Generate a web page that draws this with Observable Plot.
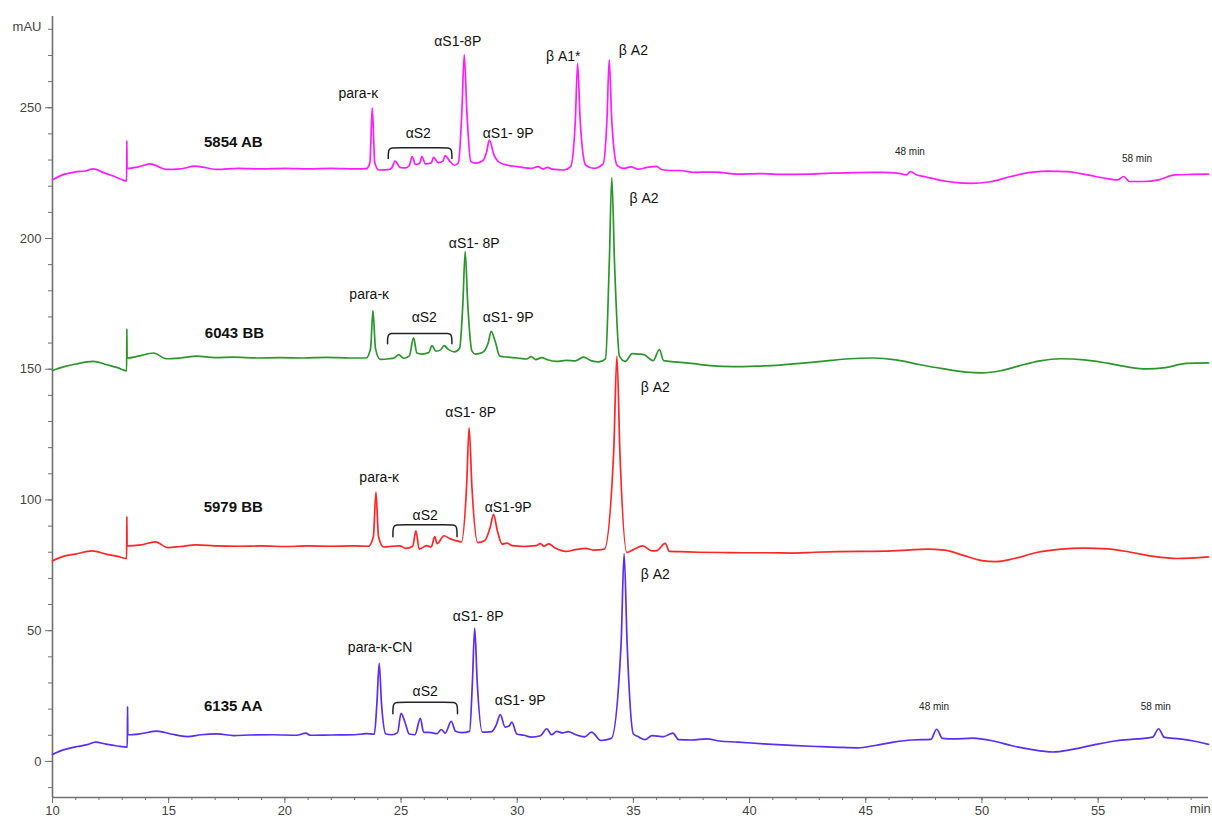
<!DOCTYPE html>
<html>
<head>
<meta charset="utf-8">
<script src="https://cdn.jsdelivr.net/npm/d3@7"></script>
<script src="https://cdn.jsdelivr.net/npm/@observablehq/plot@0.6"></script>
<style>
  body { margin: 0; background: #fff; }
  #chart svg { display: block; }
</style>
</head>
<body>
<div id="chart"></div>
<script>
// Chromatogram traces, [retention time (min), absorbance (mAU)]
const trace5854AB = [
  [10.0,222.5],[10.5,224.5],[11.0,225.5],[11.4,225.8],[11.75,226.6],[12.2,225.2],[12.7,223.6],[13.19,222.0],
  [13.2,237.4],[13.21,226.8],[13.7,227.4],[14.2,228.5],[14.93,226.4],[15.5,226.6],[16.15,227.7],[17.08,226.4],
  [18.0,226.8],[19.0,226.6],[20.0,226.8],[21.0,226.6],[22.0,226.8],[23.0,226.6],[23.5,226.7],[23.66,229],
  [23.76,250],[23.87,229],[24.05,226.2],[24.45,226.3],[24.6,227],[24.75,229.6],[24.95,227.2],[25.2,227],
  [25.35,227.8],[25.48,231.3],[25.62,228.3],[25.8,228.8],[25.9,231.3],[26.05,228.5],[26.3,228.9],[26.4,231],
  [26.6,229],[26.8,229.6],[26.9,231.7],[27.1,229.5],[27.3,228],[27.47,229],[27.62,249],[27.72,270.3],
  [27.83,249],[28.0,229.5],[28.2,228.8],[28.5,229.6],[28.68,233],[28.8,237.6],[29.0,232],[29.25,229],
  [29.6,228],[30.0,227.5],[30.6,226.8],[30.9,227.5],[31.1,226.6],[31.3,227.2],[31.5,226.5],[32.0,226.2],
  [32.3,227.5],[32.5,245],[32.6,267],[32.71,245],[32.95,228],[33.3,226.8],[33.7,228.5],[33.86,245],
  [33.96,268.3],[34.07,245],[34.3,228],[34.6,226.8],[34.9,227.4],[35.2,226.5],[35.6,227.2],[36.0,227.6],
  [36.2,226.4],[36.6,226],[37.0,226],[37.6,225.3],[38.5,225.4],[39.5,224.6],[40.5,224.8],[41.5,224.5],
  [42.5,224.6],[43.5,225],[44.5,225.2],[45.7,225.3],[46.5,224.8],[46.75,224.3],[46.93,225.6],[47.15,224.5],
  [47.6,223.5],[48.5,221.8],[49.5,221.1],[50.3,221.6],[51.2,223.6],[52.0,225.2],[52.8,225.8],[53.7,225.6],
  [54.6,224.2],[55.4,222.9],[55.85,222.4],[56.1,223.7],[56.35,221.8],[57.0,221.8],[57.6,222.4],[58.3,224.3],
  [59.0,224.5],[59.75,224.6]
];

const trace6043BB = [
  [10.0,149.5],[10.5,151],[11.0,152],[11.75,153],[12.3,151.8],[12.8,150.6],[13.19,149.4],[13.2,165.4],
  [13.21,154.3],[13.7,155],[14.35,156.2],[14.9,154],[15.5,154.3],[16.2,155],[17.0,154.4],[17.8,154.6],
  [18.8,154.3],[19.8,154.4],[20.8,154.3],[21.8,154.5],[22.8,154.3],[23.5,154.3],[23.69,158],[23.79,172.4],
  [23.9,158],[24.1,153.8],[24.5,154],[24.7,154.3],[24.9,155.6],[25.1,154.2],[25.35,155],[25.54,162],
  [25.68,156.2],[25.9,155.8],[26.2,156.4],[26.33,159],[26.5,156.9],[26.7,157.4],[26.85,159],[27.05,157.5],
  [27.3,156.6],[27.52,158],[27.66,175],[27.76,195],[27.87,175],[28.05,157],[28.2,155.8],[28.5,156.4],
  [28.75,160],[28.88,164.5],[29.05,160.7],[29.25,155],[29.6,154.6],[30.0,154.3],[30.4,153.9],[30.6,154.8],
  [30.8,153.7],[31.05,154.4],[31.3,153.6],[31.7,153],[32.1,153.4],[32.5,153.2],[32.85,154.6],[33.2,153.2],
  [33.5,152.8],[33.8,154],[33.96,190],[34.07,223.3],[34.19,190],[34.4,155],[34.65,153],[34.95,156],
  [35.2,155.8],[35.45,155.6],[35.85,153.3],[36.12,157.5],[36.3,153.3],[36.8,152.8],[37.5,152.2],[38.3,151.4],
  [39.3,151.0],[40.3,151.2],[41.3,151.6],[42.3,152.3],[43.3,153.2],[44.3,154.0],[45.3,154.3],[46.3,153.6],
  [47.3,151.8],[48.3,150.2],[49.3,148.9],[50.0,148.6],[50.8,149.4],[51.6,151.3],[52.5,153.2],[53.4,154],
  [54.4,153.6],[55.4,152.3],[56.3,150.8],[57.1,150.1],[57.9,150.6],[58.8,152.2],[59.75,152.4]
];

const trace5979BB = [
  [10.0,76.7],[10.5,78.5],[11.0,79.3],[11.7,80.5],[12.3,79.3],[12.8,78.4],[13.19,77.6],[13.2,93.6],
  [13.21,82.4],[13.8,82.8],[14.43,84],[14.95,81.8],[15.5,82.2],[16.2,82.8],[17.0,82.4],[18.0,82.3],
  [19.0,82.4],[20.0,82.2],[21.0,82.4],[22.0,82.3],[23.0,82.4],[23.6,82.3],[23.81,86],[23.92,103],
  [24.03,86],[24.25,82],[24.6,82.3],[24.95,82.4],[25.2,81.5],[25.5,82.3],[25.64,88.2],[25.78,81.2],
  [26.1,82.5],[26.3,82],[26.45,86],[26.55,83.3],[26.85,86.3],[27.1,85.2],[27.3,84.6],[27.6,84],
  [27.82,105],[27.93,127.6],[28.05,105],[28.3,83.7],[28.6,84.5],[28.85,90],[28.98,94.5],[29.15,88],
  [29.35,83.1],[29.55,83.5],[29.8,82.5],[30.3,82.2],[30.8,82.5],[31.0,83.3],[31.15,82.3],[31.36,83.2],
  [31.6,81.8],[32.1,80.3],[32.5,81],[32.95,81.5],[33.3,80.8],[33.75,81.2],[34.15,118],[34.29,155],
  [34.42,118],[34.72,79.9],[35.0,81],[35.4,82.4],[35.8,80.5],[36.0,80.6],[36.37,83.4],[36.55,80.3],
  [37.0,80.2],[37.8,80],[38.8,79.9],[39.8,79.8],[40.8,79.8],[41.8,79.7],[42.8,80],[43.8,80.2],
  [44.8,80.3],[45.8,80.4],[46.8,80.8],[47.6,81.2],[48.4,80.8],[49.2,78.8],[50.0,76.8],[50.6,76.4],
  [51.4,77.6],[52.4,80],[53.4,81.2],[54.4,81.6],[55.4,81.3],[56.4,80],[57.4,78.4],[58.4,77.6],[59.75,78.2]
];

const trace6135AA = [
  [10.0,2.7],[10.5,4.5],[11.06,5.7],[11.5,6.4],[11.85,7.4],[12.3,6.6],[12.8,5.9],[13.22,5.5],
  [13.23,21],[13.24,10.2],[13.8,10.6],[14.5,11.6],[15.1,10.5],[15.8,9.5],[16.4,10.2],[17.1,10.5],
  [17.8,9.9],[18.5,10.1],[19.5,10.2],[20.5,10.0],[20.9,10.8],[21.1,10],[22.0,10.1],[23.0,10.2],
  [23.5,10.6],[23.85,10.4],[23.96,22],[24.06,37.5],[24.16,22],[24.35,10.5],[24.6,10.2],[24.85,11],
  [25.0,18.4],[25.17,15],[25.35,10.5],[25.6,10.2],[25.83,16.5],[25.97,11.2],[26.3,11],[26.55,10.6],
  [26.73,12.2],[26.9,10.8],[27.16,15.3],[27.35,11.5],[27.6,11.0],[27.95,11.5],[28.07,30],[28.17,51],
  [28.28,30],[28.5,11.2],[28.9,11.4],[29.1,14],[29.27,17.9],[29.48,13.1],[29.65,13.5],[29.77,15],
  [29.98,10.5],[30.3,10],[30.6,9.3],[31.0,9.8],[31.27,12.5],[31.48,10.2],[31.7,11.5],[31.95,10.9],
  [32.2,11.4],[32.5,10.3],[32.9,9.4],[33.2,11.2],[33.6,8.0],[34.05,8.8],[34.47,45],[34.6,79.5],
  [34.73,45],[35.0,10.5],[35.2,9.5],[35.5,8.3],[35.8,9.9],[36.3,9.5],[36.7,10.8],[36.95,8.3],
  [37.5,8.2],[38.17,8.6],[38.7,7.8],[39.5,7.4],[40.6,6.7],[41.8,6.1],[42.9,5.7],[43.8,5.4],
  [44.65,5.2],[45.4,6.1],[46.2,7.4],[47.0,8.2],[47.8,8.4],[48.05,12.3],[48.3,8.8],[48.8,8.6],
  [49.6,8.9],[50.5,7.8],[51.3,6.0],[52.1,4.6],[53.05,3.6],[53.9,4.6],[54.9,6.5],[55.8,7.9],
  [56.7,8.6],[57.35,9.3],[57.6,12.5],[57.85,9.2],[58.5,8.6],[59.1,7.8],[59.75,6.5]
];

// Sample names and line colours
const sampleNames = ["5854 AB", "6043 BB", "5979 BB", "6135 AA"];
const sampleColors = ["#ff1cff", "#2b962b", "#ff2626", "#5a2df2"];
const sampleTraces = [trace5854AB, trace6043BB, trace5979BB, trace6135AA];

// Sample name labels [time, mAU]
const sampleLabelPos = [[17.78, 237], [17.83, 163.7], [17.78, 97.4], [17.78, 21]];

// Peak annotations [text, time, mAU]
const peakLabels = [
  ["para-κ", 23.16, 255.3], ["αS2", 25.74, 240.1], ["αS1-8P", 27.44, 275.5], ["αS1- 9P", 29.61, 240.3],
  ["β A1*", 31.98, 269.5], ["β A2", 35.0, 272],
  ["para-κ", 23.63, 178.5], ["αS2", 26.0, 169.6], ["αS1- 8P", 28.15, 198.1], ["αS1- 9P", 29.61, 169.6],
  ["β A2", 35.46, 215.4],
  ["para-κ", 24.06, 108.5], ["αS2", 26.04, 93.9], ["αS1- 8P", 28.0, 133.3], ["αS1-9P", 29.61, 97.1],
  ["β A2", 35.94, 143.1],
  ["para-κ-CN", 24.1, 43.6], ["αS2", 26.04, 26.8], ["αS1- 8P", 28.32, 55.3], ["αS1- 9P", 30.13, 23.3],
  ["β A2", 35.94, 71.6]
];

// Retention-time notes [text, time, mAU]
const timeNotes = [
  ["48 min", 46.9, 233.2], ["58 min", 56.67, 230.5],
  ["48 min", 47.94, 20.7], ["58 min", 57.48, 20.7]
];

// αS2 brackets [start time, end time, top mAU, foot mAU]
const brackets = [
  [24.45, 27.19, 234.7, 230.6],
  [24.42, 27.19, 163.7, 159.7],
  [24.65, 27.41, 90.5, 85.9],
  [24.65, 27.43, 22.6, 18.2]
];

// Axis ticks
const xMajorTicks = [10, 15, 20, 25, 30, 35, 40, 45, 50, 55];
const yMajorTicks = [0, 50, 100, 150, 200, 250];
const xDomain = [10, 59.75];
const yDomain = [-13.8, 284.9];

const traceRows = sampleTraces.flatMap((tr, i) => tr.map(([t, v]) => ({sample: sampleNames[i], t, v})));

// each bracket: feet curling down into a flat top
const bracketRows = brackets.flatMap(([t1, t2, top, foot], i) => [
  {id: i, t: t1, v: foot}, {id: i, t: t1, v: top}, {id: i, t: t1 + 0.25, v: top},
  {id: i, t: t2 - 0.25, v: top}, {id: i, t: t2, v: top}, {id: i, t: t2, v: foot}
]);

const axisColor = "#6f6f6f";
const font = "'Liberation Sans', Arial, Helvetica, sans-serif";

const chart = Plot.plot({
  width: 1212,
  height: 821,
  marginLeft: 52,
  marginRight: 4,
  marginTop: 16,
  marginBottom: 24,
  style: {fontFamily: font, fontSize: "13px", background: "#fff", color: "#444"},
  x: {domain: xDomain, axis: null},
  y: {domain: yDomain, axis: null},
  color: {domain: sampleNames, range: sampleColors},
  marks: [
    // minor ticks
    Plot.axisX(d3.range(10, 60, 1), {tickSize: 3, tickFormat: () => "", label: null, stroke: axisColor}),
    Plot.axisY(d3.range(-10, 290, 10), {tickSize: 4, tickFormat: () => "", label: null, stroke: axisColor}),
    // major ticks
    Plot.axisX(xMajorTicks, {tickSize: 6, tickPadding: 2, label: null, stroke: axisColor, fill: "#444", fontSize: 13}),
    Plot.axisY(yMajorTicks, {tickSize: 7, tickPadding: 4, label: null, stroke: axisColor, fill: "#444", fontSize: 13}),
    Plot.ruleX([xDomain[0]], {stroke: axisColor, strokeWidth: 1.6}),
    Plot.ruleY([yDomain[0]], {stroke: axisColor, strokeWidth: 1.6}),
    Plot.text(["mAU"], {x: xDomain[0], y: 281, dx: -11, textAnchor: "end", fill: "#444", fontSize: 13}),
    Plot.text(["min"], {x: 59.4, frameAnchor: "bottom", dy: 15, fill: "#444", fontSize: 13}),
    // traces
    Plot.line(traceRows, {x: "t", y: "v", z: "sample", stroke: "sample", strokeWidth: 1.7, curve: "monotone-x"}),
    // brackets
    Plot.line(bracketRows, {x: "t", y: "v", z: "id", stroke: "#222", strokeWidth: 1.5, curve: "basis"}),
    // labels
    Plot.text(sampleLabelPos, {x: d => d[0], y: d => d[1], text: (d, i) => sampleNames[i],
      fontWeight: "bold", fontSize: 15, fill: "#111"}),
    Plot.text(peakLabels, {x: d => d[1], y: d => d[2], text: d => d[0], fontSize: 14, fill: "#111"}),
    Plot.text(timeNotes, {x: d => d[1], y: d => d[2], text: d => d[0], fontSize: 10, fill: "#222"})
  ]
});

document.getElementById("chart").append(chart);
</script>
</body>
</html>
